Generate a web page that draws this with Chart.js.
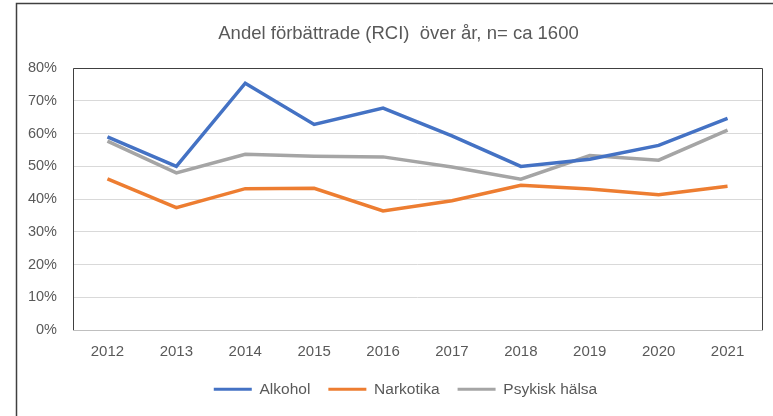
<!DOCTYPE html>
<html>
<head>
<meta charset="utf-8">
<script src="https://cdn.jsdelivr.net/npm/chart.js@4"></script>
<style>
  html, body { margin: 0; padding: 0; background: #fff; }
  #wrap { width: 773px; height: 416px; }
</style>
</head>
<body>
<div id="wrap"><canvas id="rci" width="773" height="416"></canvas></div>
<script>
// år och andel förbättrade (%)
var years = ['2012', '2013', '2014', '2015', '2016', '2017', '2018', '2019', '2020', '2021'];
var alkohol = [59.0, 50.0, 75.4, 62.8, 67.8, 59.3, 50.0, 52.2, 56.4, 64.7];
var narkotika = [46.2, 37.4, 43.2, 43.3, 36.4, 39.5, 44.2, 43.1, 41.3, 43.9];
var psykisk = [57.7, 48.0, 53.7, 53.1, 52.9, 49.8, 46.1, 53.3, 51.9, 61.1];
var seriesNames = ['Alkohol', 'Narkotika', 'Psykisk hälsa'];
var seriesColors = ['#4472C4', '#ED7D31', '#A5A5A5'];
var yTicks = [0, 10, 20, 30, 40, 50, 60, 70, 80];

var textColor = '#595959';
var fontFam = '"Liberation Sans", Arial, sans-serif';

// ram runt diagrammet + ritytan, titel/legend lite åt höger
var frames = {
    id: 'frames',
    afterLayout: function(chart) {
        chart.titleBlock.left += 9;
        chart.titleBlock.right += 9;
        chart.legend.left += 16;
        chart.legend.right += 16;
    },
    beforeDraw: function(chart) {
        var c = chart.ctx;
        c.save();
        c.fillStyle = '#fff';
        c.fillRect(0, 0, chart.width, chart.height);
        c.strokeStyle = '#404040';
        c.lineWidth = 1.5;
        c.beginPath();
        c.moveTo(16.5, 416);
        c.lineTo(16.5, 3.5);
        c.lineTo(773, 3.5);
        c.stroke();
        c.restore();
    },
    afterDatasetsDraw: function(chart) {
        var a = chart.chartArea;
        var c = chart.ctx;
        c.save();
        c.lineWidth = 1;
        c.strokeStyle = '#404040';
        c.beginPath();
        c.moveTo(Math.round(a.left) + 0.5, Math.round(a.bottom));
        c.lineTo(Math.round(a.left) + 0.5, Math.round(a.top) + 0.5);
        c.lineTo(Math.round(a.right) + 0.5, Math.round(a.top) + 0.5);
        c.lineTo(Math.round(a.right) + 0.5, Math.round(a.bottom));
        c.stroke();
        c.strokeStyle = '#BFBFBF';
        c.beginPath();
        c.moveTo(Math.round(a.left), Math.round(a.bottom) + 0.5);
        c.lineTo(Math.round(a.right) + 1, Math.round(a.bottom) + 0.5);
        c.stroke();
        c.restore();
    }
};

var dataSets = [alkohol, narkotika, psykisk].map(function(vals, i) {
    return {
        label: seriesNames[i],
        data: vals,
        borderColor: seriesColors[i],
        backgroundColor: seriesColors[i],
        borderWidth: 3.5,
        pointRadius: 0,
        tension: 0,
        fill: false
    };
});

var rciChart = new Chart(document.getElementById('rci'), {
    type: 'line',
    data: {
        labels: years,
        datasets: dataSets
    },
    options: {
        responsive: false,
        animation: false,
        layout: { padding: { left: 17, right: 11, top: 9, bottom: 9 } },
        scales: {
            x: {
                offset: true,
                afterFit: function(axis) { axis.height = 33.5; },
                grid: { display: false, drawTicks: false },
                border: { display: false },
                ticks: { color: textColor, padding: 13, font: { family: fontFam, size: 15 } }
            },
            y: {
                min: 0,
                max: 80,
                afterBuildTicks: function(axis) {
                    axis.ticks = yTicks.map(function(v) { return { value: v }; });
                },
                afterFit: function(axis) { axis.width = 56; },
                grid: { color: '#D9D9D9', lineWidth: 1, drawTicks: false },
                border: { display: false },
                ticks: {
                    color: textColor,
                    padding: 16,
                    font: { family: fontFam, size: 14.5 },
                    callback: function(v) { return v + '%'; }
                }
            }
        },
        plugins: {
            title: {
                display: true,
                text: 'Andel förbättrade (RCI)  över år, n= ca 1600',
                color: textColor,
                font: { family: fontFam, size: 18.5, weight: 'normal' },
                padding: { top: 14, bottom: 23 }
            },
            legend: {
                position: 'bottom',
                labels: {
                    color: textColor,
                    font: { family: fontFam, size: 15.5 },
                    boxWidth: 38,
                    boxHeight: 3,
                    padding: 18,
                    generateLabels: function(chart) {
                        var items = Chart.defaults.plugins.legend.labels.generateLabels(chart);
                        items.forEach(function(it) { it.lineWidth = 0; });
                        return items;
                    }
                }
            },
            tooltip: { enabled: false }
        }
    },
    plugins: [frames]
});
</script>
</body>
</html>
